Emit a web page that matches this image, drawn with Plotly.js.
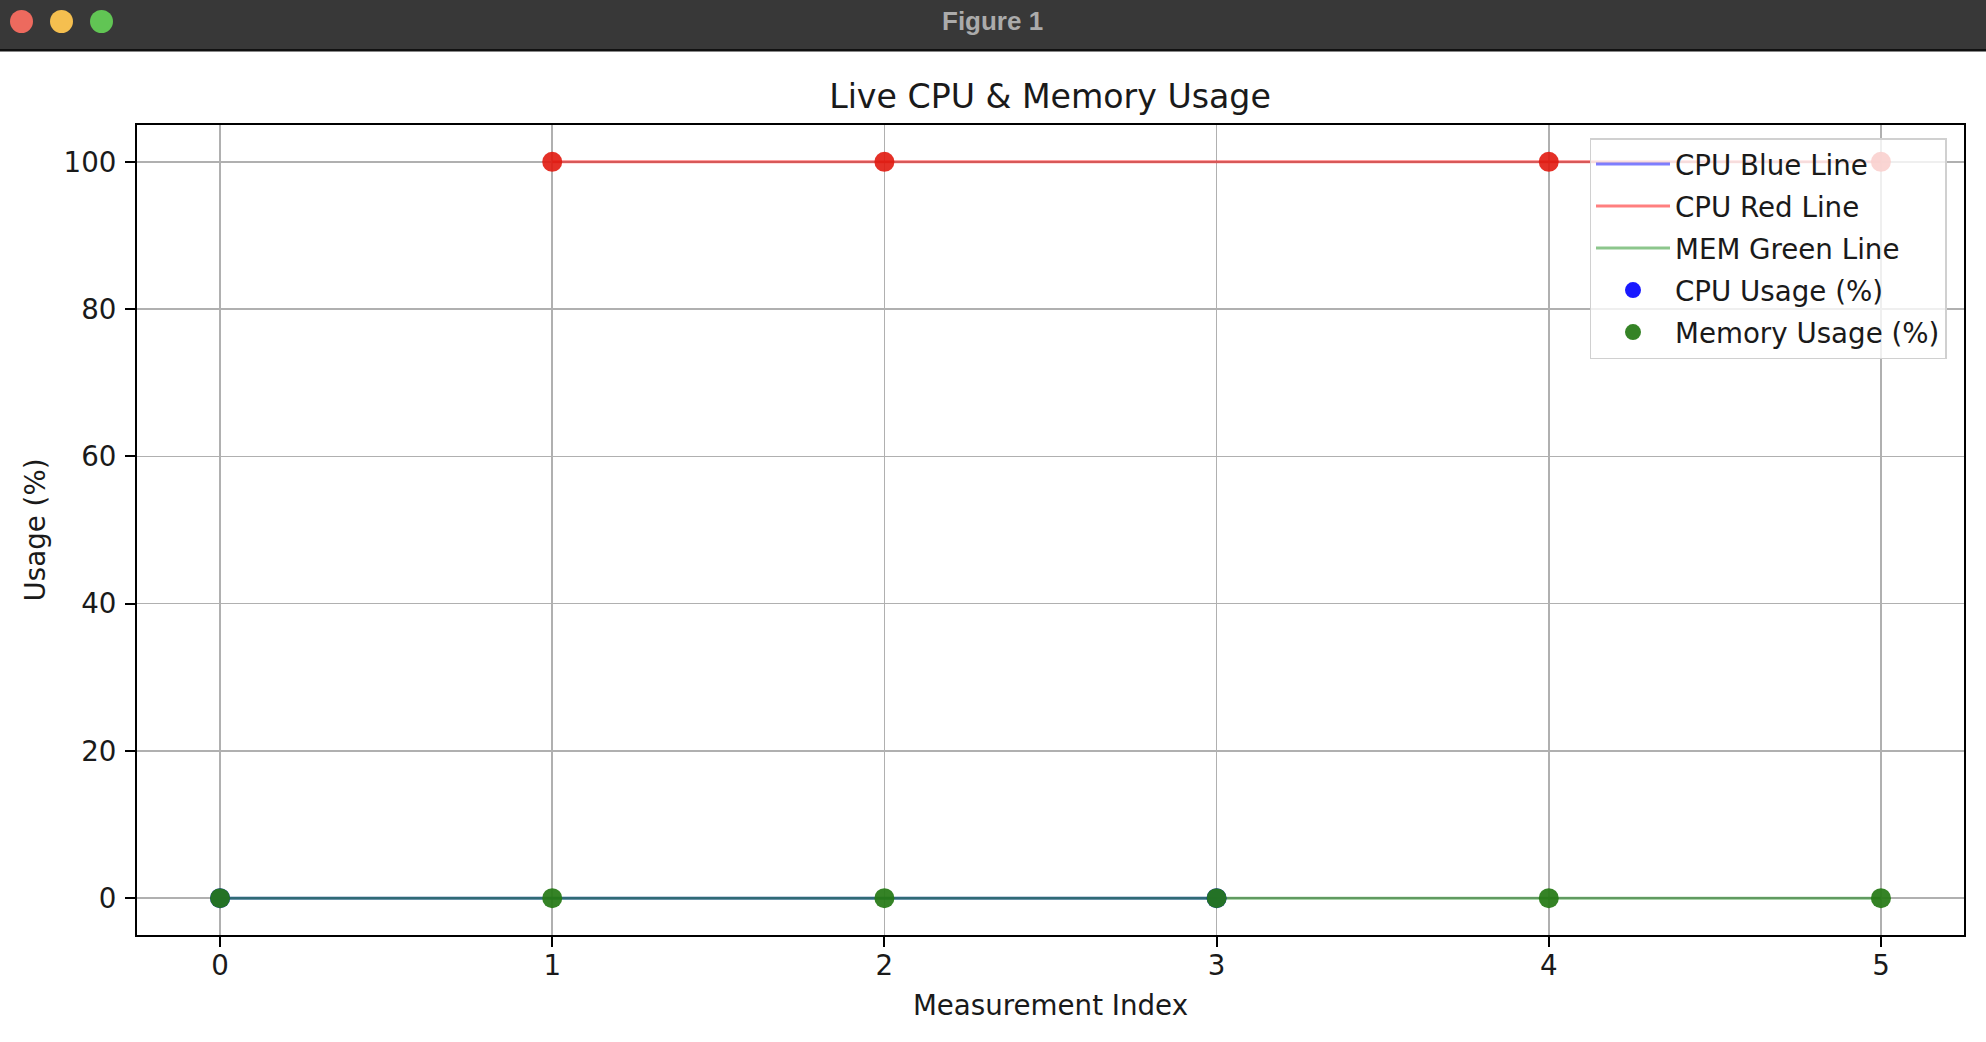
<!DOCTYPE html>
<html>
<head>
<meta charset="utf-8">
<script src="https://cdn.plot.ly/plotly-3.0.1.min.js"></script>
<style>
  html, body { margin: 0; padding: 0; background: #ffffff; }
  #chart { width: 1986px; height: 1042px; }
</style>
</head>
<body>
<div id="chart"></div>
<script>
// ---- data ----
const cpuBlueX = [0, 1, 2, 3];
const cpuBlueY = [0, 0, 0, 0];
const cpuRedX = [1, 2, 4, 5];
const cpuRedY = [100, 100, 100, 100];
const memLineX = [0, 1, 2, 3, 4, 5];
const memLineY = [0, 0, 0, 0, 0, 0];
const cpuX = [0, 1, 2, 3, 4, 5];
const cpuY = [0, 100, 100, 0, 100, 100];
const memX = [0, 1, 2, 3, 4, 5];
const memY = [0, 0, 0, 0, 0, 0];
const xTicks = [0, 1, 2, 3, 4, 5];
const yTicks = [0, 20, 40, 60, 80, 100];

// per-point colour for the CPU scatter: red when high, blue otherwise
const cpuColors = cpuY.map(v => v >= 50 ? 'rgb(225,25,15)' : 'rgb(0,0,255)');

// ---- layout geometry (pixels) ----
const W = 1986, H = 1042;
const L = 137, R = 1964, T = 125, B = 935;
const px = x => (x - L) / (R - L);
const py = y => (B - y) / (B - T);

const FONT = 'DejaVu Sans, sans-serif';
const FS = 27.7;

const traces = [
  { x: cpuBlueX, y: cpuBlueY, type: 'scatter', mode: 'lines', name: 'CPU Blue Line',
    line: { color: 'rgba(0,0,255,0.5)', width: 3 }, legendgroup: 'g1' },
  { x: cpuRedX, y: cpuRedY, type: 'scatter', mode: 'lines', name: 'CPU Red Line',
    line: { color: 'rgba(255,0,0,0.5)', width: 3 }, legendgroup: 'g2' },
  { x: memLineX, y: memLineY, type: 'scatter', mode: 'lines', name: 'MEM Green Line',
    line: { color: 'rgba(0,128,0,0.45)', width: 3 }, legendgroup: 'g3' },
  { x: cpuX, y: cpuY, type: 'scatter', mode: 'markers', name: 'CPU Usage (%)',
    marker: { color: cpuColors, size: 20, opacity: 0.9, line: { width: 0 } }, legendgroup: 'g4' },
  { x: memX, y: memY, type: 'scatter', mode: 'markers', name: 'Memory Usage (%)',
    marker: { color: 'rgb(38,122,22)', size: 20, opacity: 0.93, line: { width: 0 } }, legendgroup: 'g5' }
];

const shapes = [
  // window title bar
  { type: 'rect', xref: 'paper', yref: 'paper', x0: px(0), x1: px(W), y0: py(0), y1: py(49),
    fillcolor: '#383838', line: { width: 0 }, layer: 'above' },
  { type: 'rect', xref: 'paper', yref: 'paper', x0: px(0), x1: px(W), y0: py(49), y1: py(51.5),
    fillcolor: '#111111', line: { width: 0 }, layer: 'above' },
  { type: 'circle', xref: 'paper', yref: 'paper', x0: px(10), x1: px(33), y0: py(10), y1: py(33),
    fillcolor: '#ed6a5e', line: { width: 0 }, layer: 'above' },
  { type: 'circle', xref: 'paper', yref: 'paper', x0: px(50), x1: px(73), y0: py(10), y1: py(33),
    fillcolor: '#f5bf4f', line: { width: 0 }, layer: 'above' },
  { type: 'circle', xref: 'paper', yref: 'paper', x0: px(90), x1: px(113), y0: py(10), y1: py(33),
    fillcolor: '#61c554', line: { width: 0 }, layer: 'above' }
];

const annotations = [
  { text: '<b>Figure 1</b>', xref: 'paper', yref: 'paper', x: px(992), y: py(21),
    xanchor: 'center', yanchor: 'middle', showarrow: false,
    font: { family: 'Liberation Sans, Arial, sans-serif', size: 26, color: '#ababab' } }
];

const axisCommon = {
  showline: true, linecolor: '#000000', linewidth: 2, mirror: true,
  ticks: 'outside', ticklen: 10, tickwidth: 2, tickcolor: '#000000',
  showgrid: true, gridcolor: '#b0b0b0', gridwidth: 1.6,
  zeroline: false,
  tickfont: { family: FONT, size: FS, color: '#1a1a1a' }
};

const layout = {
  width: W, height: H,
  margin: { l: L, r: W - R, t: T, b: H - B, pad: 0 },
  paper_bgcolor: '#ffffff', plot_bgcolor: '#ffffff',
  title: { text: 'Live CPU & Memory Usage', x: 0.5287, xanchor: 'center',
           y: 1 - 96 / H, yanchor: 'middle', yref: 'container',
           font: { family: FONT, size: 33.2, color: '#1a1a1a' } },
  xaxis: Object.assign({}, axisCommon, {
    range: [-0.25, 5.25], tickmode: 'array', tickvals: xTicks, ticktext: xTicks.map(String),
    ticklabelstandoff: -5,
    title: { text: 'Measurement Index', standoff: 14, font: { family: FONT, size: FS, color: '#1a1a1a' } }
  }),
  yaxis: Object.assign({}, axisCommon, {
    range: [-5, 105], tickmode: 'array', tickvals: yTicks, ticktext: yTicks.map(String),
    ticklabelstandoff: 3,
    title: { text: 'Usage (%)', standoff: 10, font: { family: FONT, size: FS, color: '#1a1a1a' } }
  }),
  showlegend: true,
  legend: {
    x: px(1768), y: py(138), xanchor: 'center', yanchor: 'top',
    bgcolor: 'rgba(255,255,255,0.8)', bordercolor: '#d0d0d0', borderwidth: 1.5,
    font: { family: FONT, size: FS, color: '#1a1a1a' },
    traceorder: 'grouped', tracegroupgap: 3, itemwidth: 74
  },
  shapes: shapes,
  annotations: annotations
};

Plotly.newPlot('chart', traces, layout, { displayModeBar: false, staticPlot: true });
</script>
</body>
</html>
